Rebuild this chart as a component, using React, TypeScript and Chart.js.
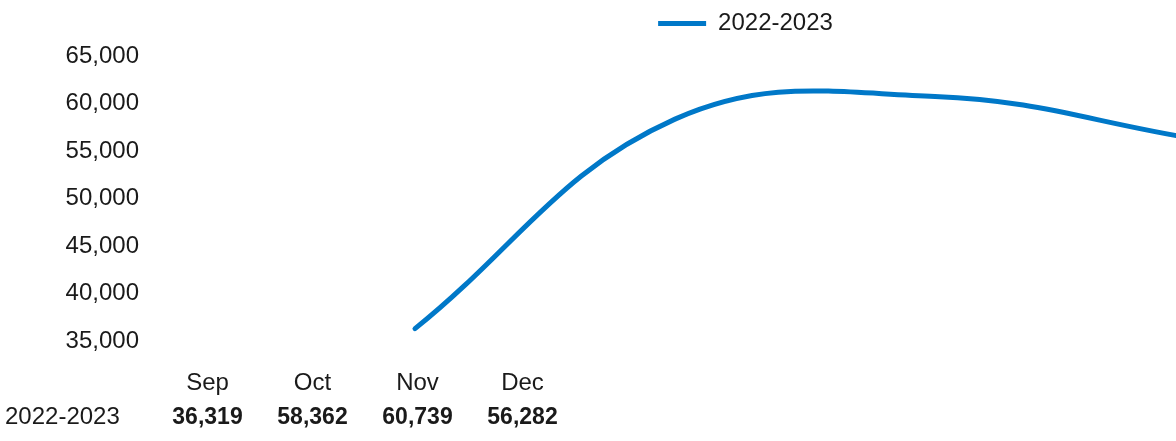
import React, { useEffect, useRef } from "react";
import { Chart, registerables } from "chart.js";

Chart.register(...registerables);

// ---- data ----
const categories = ["Sep", "Oct", "Nov", "Dec"];
const seriesName = "2022-2023";
const seriesValues = [36319, 58362, 60739, 56282];
const yTickValues = [35000, 40000, 45000, 50000, 55000, 60000, 65000];

// ---- layout constants ----
const VIEW_W = 1176;
const CANVAS_W = 1502;
const CANVAS_H = 441;
const PAD_T = 1.5;
const PAD_R = 11;
const PAD_B = 15;
const Y_AXIS_W = 150;
const LEGEND_EXTRA = 10.5;
const AREA_L = Y_AXIS_W;
const AREA_R = CANVAS_W - PAD_R;
const COL_FIRST = 207.5;
const COL_STEP = 105;
const LINE_FIRST = 415;
const LINE_STEP = 260;
const TABLE_Y = 417.5;
const xMin = -(COL_FIRST - AREA_L) / COL_STEP;
const xMax = xMin + (AREA_R - AREA_L) / COL_STEP;
const x2Min = -(LINE_FIRST - AREA_L) / LINE_STEP;
const x2Max = x2Min + (AREA_R - AREA_L) / LINE_STEP;

const FONT = '"Liberation Sans", Arial, Helvetica, sans-serif';
const TEXT = "#1a1a1a";
const BLUE = "#0078c8";

const legendSpacer = {
  id: "legendSpacer",
  beforeInit(chart: any) {
    const legend = chart.legend;
    if (!legend) return;
    const origFit = legend.fit;
    legend.fit = function () {
      origFit.call(this);
      this.height += LEGEND_EXTRA;
    };
  },
};

const dataTable = {
  id: "dataTable",
  afterDraw(chart: any) {
    const ctx = chart.ctx;
    const xs = chart.scales.x;
    ctx.save();
    ctx.fillStyle = TEXT;
    ctx.textBaseline = "middle";
    ctx.font = `24px ${FONT}`;
    ctx.textAlign = "left";
    ctx.fillText(seriesName, 5, TABLE_Y);
    ctx.font = `bold 23px ${FONT}`;
    ctx.textAlign = "center";
    seriesValues.forEach((v, i) => {
      ctx.fillText(v.toLocaleString("en-US"), xs.getPixelForValue(i), TABLE_Y);
    });
    ctx.restore();
  },
};

export default function App() {
  const canvasRef = useRef<HTMLCanvasElement | null>(null);

  useEffect(() => {
    document.body.style.margin = "0";
    const canvas = canvasRef.current;
    if (!canvas) return;
    const chart = new Chart(canvas, {
      type: "line",
      data: {
        datasets: [
          {
            label: seriesName,
            data: seriesValues.map((v, i) => ({ x: i, y: v })),
            xAxisID: "x2",
            yAxisID: "y",
            borderColor: BLUE,
            backgroundColor: BLUE,
            borderWidth: 5,
            borderCapStyle: "round",
            tension: 0.4,
            pointRadius: 0,
            pointHoverRadius: 0,
            fill: false,
          },
        ],
      },
      options: {
        responsive: false,
        animation: false,
        layout: { padding: { top: PAD_T, left: 0, right: PAD_R, bottom: PAD_B } },
        plugins: {
          legend: {
            position: "top",
            align: "center",
            labels: {
              usePointStyle: true,
              pointStyle: "line",
              pointStyleWidth: 48,
              padding: 10,
              color: TEXT,
              font: { size: 24, family: FONT },
              generateLabels: (c: any) =>
                (Chart.defaults.plugins.legend.labels as any)
                  .generateLabels(c)
                  .map((l: any) => ({ ...l, lineCap: "butt", pointStyle: "line" })),
            },
          },
          tooltip: { enabled: false },
        },
        scales: {
          x: {
            type: "linear",
            position: "bottom",
            min: xMin,
            max: xMax,
            grid: { display: false, drawTicks: false },
            border: { display: false },
            afterBuildTicks: (s: any) => {
              s.ticks = categories.map((_, i) => ({ value: i }));
            },
            ticks: {
              autoSkip: false,
              maxRotation: 0,
              padding: 28,
              color: TEXT,
              font: { size: 24, family: FONT },
              callback: (v: any) => categories[v] ?? "",
            },
          },
          x2: {
            type: "linear",
            display: false,
            min: x2Min,
            max: x2Max,
          },
          y: {
            type: "linear",
            position: "left",
            min: yTickValues[0],
            max: yTickValues[yTickValues.length - 1],
            afterFit: (s: any) => {
              s.width = Y_AXIS_W;
            },
            afterBuildTicks: (s: any) => {
              s.ticks = yTickValues.map((v) => ({ value: v }));
            },
            grid: { display: false, drawTicks: false },
            border: { display: false },
            ticks: {
              padding: 11,
              color: TEXT,
              font: { size: 24, family: FONT },
              callback: (v: any) => Number(v).toLocaleString("en-US"),
            },
          },
        },
      } as any,
      plugins: [legendSpacer, dataTable],
    });
    return () => chart.destroy();
  }, []);

  return (
    <div style={{ width: VIEW_W, height: CANVAS_H, overflow: "hidden", position: "relative" }}>
      <div style={{ width: CANVAS_W, height: CANVAS_H }}>
        <canvas
          ref={canvasRef}
          width={CANVAS_W}
          height={CANVAS_H}
          style={{ width: CANVAS_W, height: CANVAS_H, display: "block" }}
        />
      </div>
    </div>
  );
}
